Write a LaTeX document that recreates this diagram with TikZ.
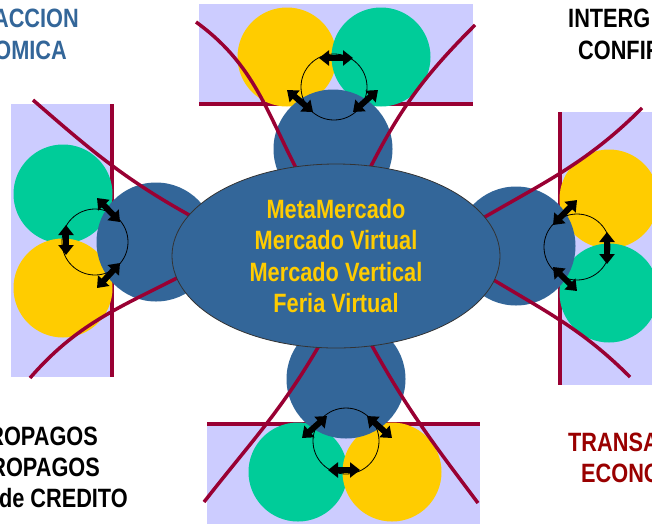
\documentclass[tikz,border=0pt]{standalone}
\usepackage{fontspec}
\setmainfont{Liberation Sans}[FakeStretch=0.82]
\usetikzlibrary{calc,arrows.meta,shapes.geometric}
\definecolor{discblue}{HTML}{336699}
\definecolor{discgold}{HTML}{FFCC00}
\definecolor{discgreen}{HTML}{00CC99}
\definecolor{panel}{HTML}{CCCCFF}
\definecolor{wine}{HTML}{990033}
\definecolor{darkred}{HTML}{990000}
\tikzset{
	panelbox/.style={fill=panel,draw=none},
	bigdisc/.style={circle,fill=discblue,minimum size=119pt,inner sep=0},
	golddisc/.style={circle,fill=discgold,minimum size=99pt,inner sep=0},
	greendisc/.style={circle,fill=discgreen,minimum size=99pt,inner sep=0},
	ring/.style={circle,draw=black,line width=0.8pt,minimum size=66pt,inner sep=0},
	fence/.style={color=wine,line width=3.5pt},
	dblarrow/.style={<->,>={Triangle[width=15pt,length=10pt]},line width=6pt,color=black},
	hub/.style={ellipse,fill=discblue,draw=black!80,line width=0.8pt,minimum width=328pt,minimum height=184pt,
		inner sep=0,text=discgold,align=center,font=\bfseries\fontsize{26.5}{31.5}\selectfont},
	corner/.style={inner sep=0,font=\bfseries\fontsize{26.5}{31.5}\selectfont}
}
\begin{document}
\begin{tikzpicture}[x=1pt,y=-1pt]
	\useasboundingbox (0,0) rectangle (652,523);
	\clip (0,0) rectangle (652,523);

	%%Panels
	\fill[panelbox] (199,4) rectangle (473,104);
	\fill[panelbox] (11,104) rectangle (112,377);
	\fill[panelbox] (560,112) rectangle (660,385);
	\fill[panelbox] (207,424) rectangle (480,530);

	%%Panel edges
	\draw[fence] (199,104) -- (473,104);
	\draw[fence] (112,104) -- (112,377);
	\draw[fence] (560,112) -- (560,385);
	\draw[fence] (207,424) -- (480,424);

	%%Top group
	\node[golddisc] (topgold) at (287,57) {};
	\node[greendisc] (topgreen) at (381,57) {};
	\node[bigdisc] (topblue) at (333,149) {};

	%%Left group
	\node[greendisc] (leftgreen) at (63,194) {};
	\node[golddisc] (leftgold) at (63,288) {};
	\node[bigdisc] (leftblue) at (156,242) {};

	%%Right group
	\node[golddisc] (rightgold) at (609,199) {};
	\node[greendisc] (rightgreen) at (609,293) {};
	\node[bigdisc] (rightblue) at (516,246) {};

	%%Bottom group
	\node[greendisc] (botgreen) at (298,472) {};
	\node[golddisc] (botgold) at (392,472) {};
	\node[bigdisc] (botblue) at (346,379) {};

	%%Red curves towards the center
	\draw[fence] (196,22) to[out=-36,in=117] (296,168);
	\draw[fence] (475,25) to[out=-135,in=63] (370,168);
	\draw[fence] (33,100) to[out=-41,in=151] (191,216);
	\draw[fence] (30,378) to[out=49,in=-153] (179,277);
	\draw[fence] (642,108) to[out=-135,in=30] (483,218);
	\draw[fence] (492,279) to[out=-31,in=135] (630,377);
	\draw[fence] (320,344) to[out=-120,in=52] (204,502);
	\draw[fence] (371,344) to[out=-61,in=127] (478,503);

	%%Center
	\node[hub] (hub) at (336,256) {MetaMercado\\Mercado Virtual\\Mercado Vertical\\Feria Virtual};

	%%Rings and arrows
	\node[ring] (topring) at (334,87) {};
	\draw[dblarrow] ($(topring)+(-15,-29)$) -- ($(topring)+(19,-29)$);
	\draw[dblarrow] ($(topring)+(-47,3)$) -- ($(topring)+(-21,25)$);
	\draw[dblarrow] ($(topring)+(19,25)$) -- ($(topring)+(44,3)$);

	\node[ring] (leftring) at (95,242) {};
	\draw[dblarrow] ($(leftring)+(-29,-17)$) -- ($(leftring)+(-29,13)$);
	\draw[dblarrow] ($(leftring)+(2,-44)$) -- ($(leftring)+(25,-20)$);
	\draw[dblarrow] ($(leftring)+(25,21)$) -- ($(leftring)+(2,46)$);

	\node[ring] (rightring) at (577,247) {};
	\draw[dblarrow] ($(rightring)+(30,-15)$) -- ($(rightring)+(30,17)$);
	\draw[dblarrow] ($(rightring)+(-24,-22)$) -- ($(rightring)+(0,-47)$);
	\draw[dblarrow] ($(rightring)+(-24,20)$) -- ($(rightring)+(0,44)$);

	\node[ring] (botring) at (346,441) {};
	\draw[dblarrow] ($(botring)+(-18,29)$) -- ($(botring)+(14,29)$);
	\draw[dblarrow] ($(botring)+(-44,-3)$) -- ($(botring)+(-19,-25)$);
	\draw[dblarrow] ($(botring)+(21,-25)$) -- ($(botring)+(46,-3)$);

	%%Corner texts
	\node[corner,text=discblue,anchor=base east] (tl1) at (79,27) {ACCION};
	\node[corner,text=discblue,anchor=base east] (tl2) at (67,59) {OMICA};
	\node[corner,anchor=base west] (tr1) at (568,27) {INTERG};
	\node[corner,anchor=base west] (tr2) at (578,59) {CONFIR};
	\node[corner,anchor=base east] (bl1) at (98,445) {ROPAGOS};
	\node[corner,anchor=base east] (bl2) at (100,476) {ROPAGOS};
	\node[corner,anchor=base east] (bl3) at (128,507) {de CREDITO};
	\node[corner,text=darkred,anchor=base west] (br1) at (568,451) {TRANSA};
	\node[corner,text=darkred,anchor=base west] (br2) at (581,482) {ECONO};

\end{tikzpicture}
\end{document}
